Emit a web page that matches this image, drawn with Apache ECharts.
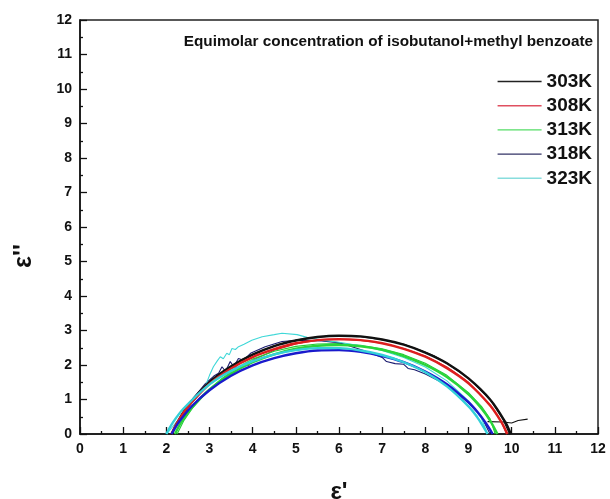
<!DOCTYPE html>
<html>
<head>
<meta charset="utf-8">
<script src="https://cdn.jsdelivr.net/npm/echarts@6/dist/echarts.min.js"></script>
<style>
  html, body { margin: 0; padding: 0; background: #fff; }
  #chart { width: 610px; height: 499px; }
</style>
</head>
<body>
<div id="chart"></div>
<script>
// Cole-Cole plot: ε'' against ε' for five temperatures.
const temps = ['303K', '308K', '313K', '318K', '323K'];
const legendColors = ['#222222', '#e05060', '#55dd66', '#333366', '#88dddd'];
const fitColors = ['#111111', '#dd1f1f', '#2ad43a', '#1a1acc', '#33d0d8'];
const rawColors = ['#111111', '#cc2222', '#22cc33', '#1c1c70', '#40d8d8'];

const xTicks = [0, 1, 2, 3, 4, 5, 6, 7, 8, 9, 10, 11, 12];
const yTicks = [0, 1, 2, 3, 4, 5, 6, 7, 8, 9, 10, 11, 12];

// fitted arcs (ε', ε'')
const fit303 = [[2.13,0],[2.25,0.32],[2.5,0.82],[3,1.5],[3.5,1.96],[4,2.3],[4.5,2.55],[5,2.71],[5.5,2.81],[6,2.85],[6.5,2.83],[7,2.74],[7.5,2.59],[8,2.36],[8.5,2.05],[9,1.61],[9.5,1.0],[9.85,0.35],[9.98,0]];
const fit308 = [[2.12,0],[2.25,0.32],[2.5,0.79],[3,1.45],[3.5,1.9],[4,2.23],[4.5,2.46],[5,2.63],[5.5,2.72],[6,2.75],[6.5,2.72],[7,2.63],[7.5,2.47],[8,2.24],[8.5,1.91],[9,1.47],[9.5,0.83],[9.75,0.37],[9.9,0]];
const fit313 = [[2.2,0],[2.35,0.35],[2.6,0.78],[3,1.29],[3.5,1.75],[4,2.08],[4.5,2.31],[5,2.47],[5.5,2.56],[6,2.58],[6.5,2.54],[7,2.44],[7.5,2.26],[8,2.0],[8.5,1.65],[9,1.15],[9.3,0.74],[9.5,0.39],[9.67,0]];
const fit318 = [[2.12,0],[2.3,0.36],[2.6,0.82],[3,1.27],[3.5,1.69],[4,1.99],[4.5,2.2],[5,2.34],[5.5,2.42],[6,2.43],[6.5,2.38],[7,2.26],[7.5,2.08],[8,1.81],[8.5,1.44],[9,0.92],[9.2,0.65],[9.4,0.32],[9.56,0]];
const fit323 = [[2.0,0],[2.15,0.33],[2.4,0.74],[3,1.44],[3.5,1.83],[4,2.11],[4.5,2.31],[5,2.43],[5.5,2.49],[6,2.49],[6.5,2.42],[7,2.29],[7.5,2.08],[8,1.79],[8.5,1.38],[9,0.8],[9.2,0.49],[9.35,0.2],[9.44,0]];

// measured spectra
const raw303 = [[2.13,0],[2.3,0.4],[2.6,0.92],[3,1.48],[3.4,1.88],[3.7,2.12],[4,2.31],[4.5,2.56],[5,2.72],[5.5,2.81],[6,2.85],[6.5,2.82],[7,2.73],[7.5,2.6],[7.9,2.42],[8.2,2.27],[8.5,2.05],[9,1.62],[9.5,1.0],[9.8,0.42],[9.95,0]];
const tail303 = [[9.44,0.36],[9.8,0.35],[10.0,0.32],[10.15,0.39],[10.37,0.43]];
const raw308 = [[2.12,0],[2.3,0.42],[2.5,0.8],[3.0,1.44],[3.3,1.7],[3.45,1.8],[3.55,1.86],[3.62,1.95],[3.7,1.88],[3.8,2.0],[3.9,1.98],[4.0,2.14],[4.5,2.43],[5,2.61],[5.5,2.71],[6,2.74],[6.5,2.71],[7,2.63],[7.5,2.48],[8,2.26],[8.5,1.94],[9,1.5],[9.5,0.84],[9.75,0.38],[9.88,0]];
const raw313 = [[2.25,0],[2.4,0.38],[2.6,0.74],[3.0,1.3],[3.3,1.62],[3.5,1.8],[3.8,2.04],[4.0,2.17],[4.5,2.4],[5,2.54],[5.5,2.61],[6,2.62],[6.5,2.57],[7,2.47],[7.5,2.3],[8,2.05],[8.5,1.7],[9,1.2],[9.3,0.8],[9.5,0.44],[9.62,0]];
const raw318 = [[2.12,0],[2.3,0.42],[2.5,0.85],[2.9,1.45],[3.1,1.68],[3.21,1.76],[3.29,1.95],[3.37,1.81],[3.48,2.1],[3.56,1.95],[3.67,2.19],[3.79,2.14],[3.95,2.34],[4.29,2.53],[4.68,2.68],[5.1,2.72],[5.6,2.7],[6.03,2.64],[6.57,2.42],[7.0,2.22],[7.1,2.1],[7.3,2.04],[7.5,2.02],[7.6,1.9],[7.75,1.86],[8.0,1.74],[8.5,1.42],[9.0,0.9],[9.3,0.5],[9.5,0]];
const raw323 = [[2.01,0],[2.3,0.45],[2.51,0.79],[2.7,1.08],[2.9,1.37],[3.0,1.7],[3.09,1.95],[3.18,2.12],[3.25,2.24],[3.32,2.18],[3.4,2.34],[3.46,2.3],[3.52,2.48],[3.6,2.45],[3.66,2.52],[3.8,2.6],[3.98,2.72],[4.22,2.82],[4.5,2.88],[4.68,2.92],[5.03,2.88],[5.26,2.8],[5.6,2.72],[6,2.66],[6.5,2.56],[7,2.42],[7.5,2.22],[8,1.94],[8.5,1.54],[9,0.96],[9.3,0.45],[9.44,0]];

const fits = [fit303, fit308, fit313, fit318, fit323];
const raws = [raw303, raw308, raw313, raw318, raw323];

const FONT = '"Liberation Sans", Arial, sans-serif';

const series = [];
temps.forEach(function (t, i) {
  series.push({
    name: t, type: 'line', data: raws[i], symbol: 'none', smooth: false,
    lineStyle: { color: rawColors[i], width: 1.1 }, itemStyle: { color: legendColors[i] },
    z: 2
  });
});
series.push({
  name: '303K', type: 'line', data: tail303, symbol: 'none',
  lineStyle: { color: rawColors[0], width: 1.1 }, itemStyle: { color: legendColors[0] }, z: 2
});
temps.forEach(function (t, i) {
  series.push({
    name: t, type: 'line', data: fits[i], symbol: 'none', smooth: 0.35,
    lineStyle: { color: fitColors[i], width: 2.4 }, itemStyle: { color: legendColors[i] },
    z: 3
  });
});

function valueAxis(ticks, extra) {
  return Object.assign({
    type: 'value',
    min: ticks[0],
    max: ticks[ticks.length - 1],
    interval: 1,
    axisLine: { show: true, onZero: false, lineStyle: { color: '#111', width: 1.5 } },
    axisTick: { show: true, inside: true, length: 7, lineStyle: { color: '#111', width: 1.3 } },
    minorTick: { show: true, splitNumber: 2, length: 3, lineStyle: { color: '#111', width: 1.3 } },
    splitLine: { show: false },
    axisLabel: {
      color: '#111', fontFamily: FONT, fontWeight: 'bold', fontSize: 14, margin: 8,
      showMinLabel: true, showMaxLabel: true
    }
  }, extra || {});
}

const chart = echarts.init(document.getElementById('chart'), null, { renderer: 'canvas' });
chart.setOption({
  backgroundColor: '#ffffff',
  animation: false,
  title: {
    text: 'Equimolar concentration of isobutanol+methyl benzoate',
    right: 12, top: 29,
    textStyle: { fontFamily: FONT, fontWeight: 'bold', fontSize: 15.3, color: '#111' }
  },
  legend: {
    orient: 'vertical',
    right: 13, top: 67,
    itemWidth: 44, itemHeight: 1.4, itemGap: 5.2,
    icon: 'rect',
    itemStyle: { borderWidth: 0 },
    data: temps.map(function (t, i) {
      return { name: t, itemStyle: { color: legendColors[i], borderWidth: 0 } };
    }),
    textStyle: { fontFamily: FONT, fontWeight: 'bold', fontSize: 19, lineHeight: 19, color: '#111' }
  },
  grid: {
    left: 80, right: 12, top: 20, bottom: 65,
    outerBoundsMode: 'none',
    containLabel: false,
    show: true, borderColor: '#222', borderWidth: 1.5, backgroundColor: 'transparent'
  },
  xAxis: valueAxis(xTicks, {
    name: "ε'", nameLocation: 'middle', nameGap: 46,
    nameTextStyle: { fontFamily: FONT, fontWeight: 'bold', fontSize: 24, color: '#111' }
  }),
  yAxis: valueAxis(yTicks),
  graphic: [{
    type: 'text',
    x: 24, y: 256,
    rotation: Math.PI / 2,
    style: {
      text: "ε''", fontFamily: FONT, fontWeight: 'bold', fontSize: 25, fill: '#111',
      textAlign: 'center', textVerticalAlign: 'middle'
    }
  }],
  series: series
});
</script>
</body>
</html>
